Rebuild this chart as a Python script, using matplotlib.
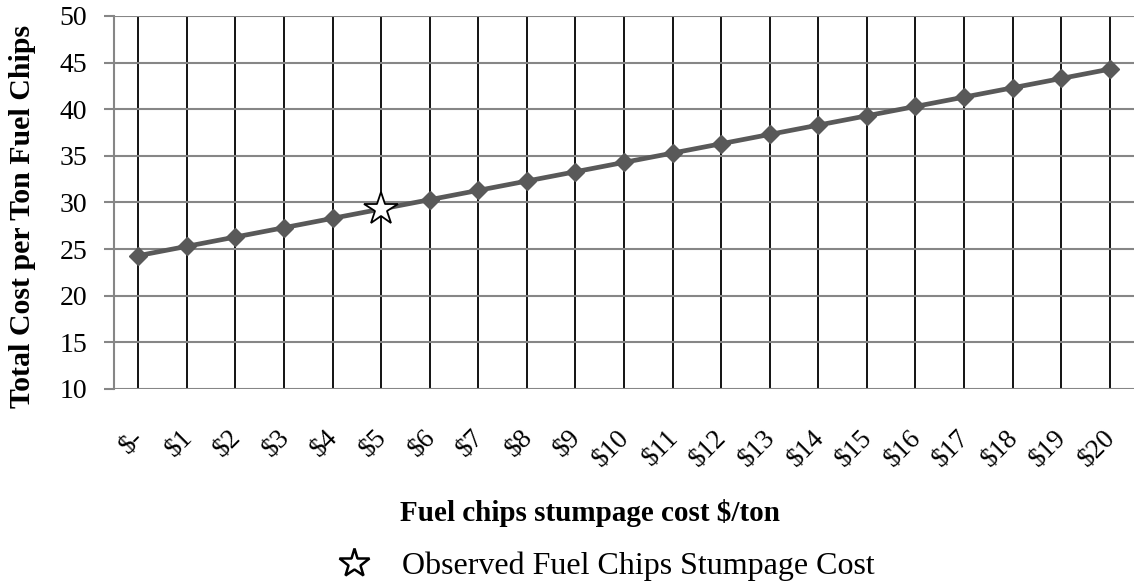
import matplotlib
matplotlib.use("Agg")
import matplotlib.pyplot as plt
import matplotlib.transforms as mtransforms
from matplotlib.lines import Line2D

# stumpage cost categories ($/ton) and total cost per ton of fuel chips
categories = ["$-", "$1", "$2", "$3", "$4", "$5", "$6", "$7", "$8", "$9", "$10",
              "$11", "$12", "$13", "$14", "$15", "$16", "$17", "$18", "$19", "$20"]
total_cost = [24.3, 25.3, 26.3, 27.3, 28.3, 29.3, 30.3, 31.3, 32.3, 33.3, 34.3,
              35.3, 36.3, 37.3, 38.3, 39.3, 40.3, 41.3, 42.3, 43.3, 44.3]
observed_idx = 5
observed_cost = 29.3
y_ticks = [10, 15, 20, 25, 30, 35, 40, 45, 50]

plt.rcParams["font.family"] = ["Liberation Serif", "DejaVu Serif"]

W, H = 1134, 587
fig = plt.figure(figsize=(W / 100, H / 100), dpi=100)
ax = fig.add_axes([114 / W, 1 - 389 / H, 1 - 114 / W, (389 - 16) / H])

x = list(range(len(categories)))
line_color = "#595959"
ax.plot(x, total_cost, color=line_color, linewidth=3.4, zorder=3)
mx = [i for i in x if i != observed_idx]
my = [total_cost[i] for i in mx]
ax.plot(mx, my, linestyle="none", marker="D", markersize=9,
        color=line_color, zorder=4)
ax.plot([observed_idx], [observed_cost], linestyle="none", marker="*",
        markersize=25, markerfacecolor="white", markeredgecolor="black",
        markeredgewidth=1.3, zorder=5)

# grid: black verticals at each category, grey horizontals
for xi in x:
    ax.axvline(xi, color="black", linewidth=1.3, zorder=1)
for yt in y_ticks:
    ax.axhline(yt, color="#868686", linewidth=1.5, zorder=1)

ax.set_xlim(-0.5, len(categories) - 0.5)
ax.set_ylim(10, 50)
ax.set_yticks(y_ticks)
ax.set_xticks(x)
ax.set_xticklabels([])
ax.tick_params(axis="x", length=0)
ax.tick_params(axis="y", length=7.2, color="#868686", width=1.5, pad=12,
               labelsize=20)

# rotated category labels, anchored at their top-right end (Excel style)
base = mtransforms.blended_transform_factory(ax.transData, ax.transAxes)
offset = mtransforms.ScaledTranslation(-7 / 100, -36 / 100, fig.dpi_scale_trans)
for xi, cat in zip(x, categories):
    ax.text(xi, 0, cat.replace("$", r"\$"), transform=base + offset,
            rotation=45, ha="right", va="top", rotation_mode="anchor",
            fontsize=19.5, clip_on=False)

for side in ["top", "right", "bottom"]:
    ax.spines[side].set_visible(False)
ax.spines["left"].set_color("#868686")
ax.spines["left"].set_linewidth(1.5)

fig.text(23 / W, 1 - 216 / H, "Total Cost per Ton Fuel Chips", rotation=90,
         fontsize=21.5, fontweight="bold", ha="center", va="center")
fig.text(590 / W, 1 - 521 / H, r"Fuel chips stumpage cost \$/ton",
         fontsize=21, fontweight="bold", ha="center", va="baseline")

star = Line2D([], [], linestyle="none", marker="*", markersize=22,
              markerfacecolor="white", markeredgecolor="black",
              markeredgewidth=1.8)
fig.legend([star], ["Observed Fuel Chips Stumpage Cost"],
           loc="center left", bbox_to_anchor=(335 / W, 1 - 566 / H),
           frameon=False, fontsize=23, handletextpad=0.9, handlelength=1.2,
           borderpad=0, borderaxespad=0)

fig.savefig("out.png", dpi=100)
